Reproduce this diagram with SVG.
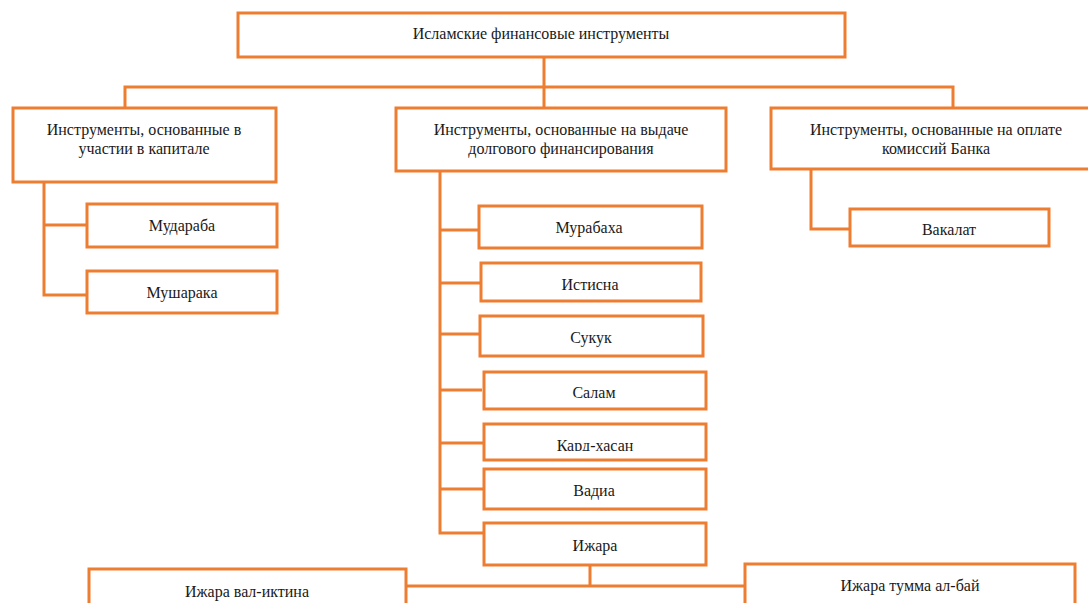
<svg xmlns="http://www.w3.org/2000/svg" width="1088" height="603" viewBox="0 0 1088 603">
<style>
.box{fill:#fff;stroke:#ED7D31;stroke-width:3}
.c{fill:none;stroke:#ED7D31;stroke-width:3}
text{font-family:"Liberation Serif","Times New Roman",serif;font-size:16px;fill:#1a1a1a;text-anchor:middle}
</style>
<defs>
<clipPath id="clipKard"><rect x="483" y="424" width="223" height="27"/></clipPath>
</defs>
<rect width="1088" height="603" fill="#fff"/>
<g id="connectors">
<path class="c" d="M544,57 V108 M125,108 V87 H953 V108"/>
<path class="c" d="M44,182 V295 H87 M44,225 H87"/>
<path class="c" d="M440,171 V533 H483 M440,230 H479 M440,283 H483 M440,334 H480 M440,390 H482 M440,443 H483 M440,489 H483"/>
<path class="c" d="M811,169 V229 H850"/>
<path class="c" d="M590,566 V586 M406,586 H745"/>
</g>
<g id="root"><rect class="box" x="238" y="13" width="607" height="44"/><text x="541" y="39">Исламские финансовые инструменты</text></g>
<g id="equity"><rect class="box" x="13" y="108" width="263" height="74"/><text x="144" y="135">Инструменты, основанные в</text><text x="144" y="154">участии в капитале</text></g>
<g id="debt"><rect class="box" x="396" y="108" width="330" height="63"/><text x="561" y="135">Инструменты, основанные на выдаче</text><text x="561" y="154">долгового финансирования</text></g>
<g id="fee"><rect class="box" x="771" y="108" width="322" height="61"/><text x="936" y="135">Инструменты, основанные на оплате</text><text x="936" y="154">комиссий Банка</text></g>
<g id="mudaraba"><rect class="box" x="87" y="204" width="190" height="43"/><text x="182" y="231">Мудараба</text></g>
<g id="musharaka"><rect class="box" x="87" y="271" width="190" height="42"/><text x="182" y="298">Мушарака</text></g>
<g id="vakalat"><rect class="box" x="850" y="209" width="199" height="37"/><text x="949" y="235">Вакалат</text></g>
<g id="murabaha"><rect class="box" x="479" y="206" width="223" height="42"/><text x="589" y="233">Мурабаха</text></g>
<g id="istisna"><rect class="box" x="481" y="263" width="220" height="38"/><text x="590" y="290">Истисна</text></g>
<g id="sukuk"><rect class="box" x="480" y="316" width="223" height="40"/><text x="591" y="343">Сукук</text></g>
<g id="salam"><rect class="box" x="484" y="372" width="222" height="37"/><text x="594" y="398">Салам</text></g>
<g id="kard"><rect class="box" x="484" y="424" width="222" height="36"/><text x="595" y="451" clip-path="url(#clipKard)">Кард-хасан</text></g>
<g id="vadia"><rect class="box" x="484" y="469" width="222" height="40"/><text x="594" y="496">Вадиа</text></g>
<g id="ijara"><rect class="box" x="484" y="523" width="222" height="42"/><text x="595" y="551">Ижара</text></g>
<g id="ijara-iktina"><rect class="box" x="89" y="569" width="317" height="40"/><text x="247" y="597">Ижара вал-иктина</text></g>
<g id="ijara-bay"><rect class="box" x="745" y="564" width="330" height="45"/><text x="910" y="591">Ижара тумма ал-бай</text></g>
</svg>
